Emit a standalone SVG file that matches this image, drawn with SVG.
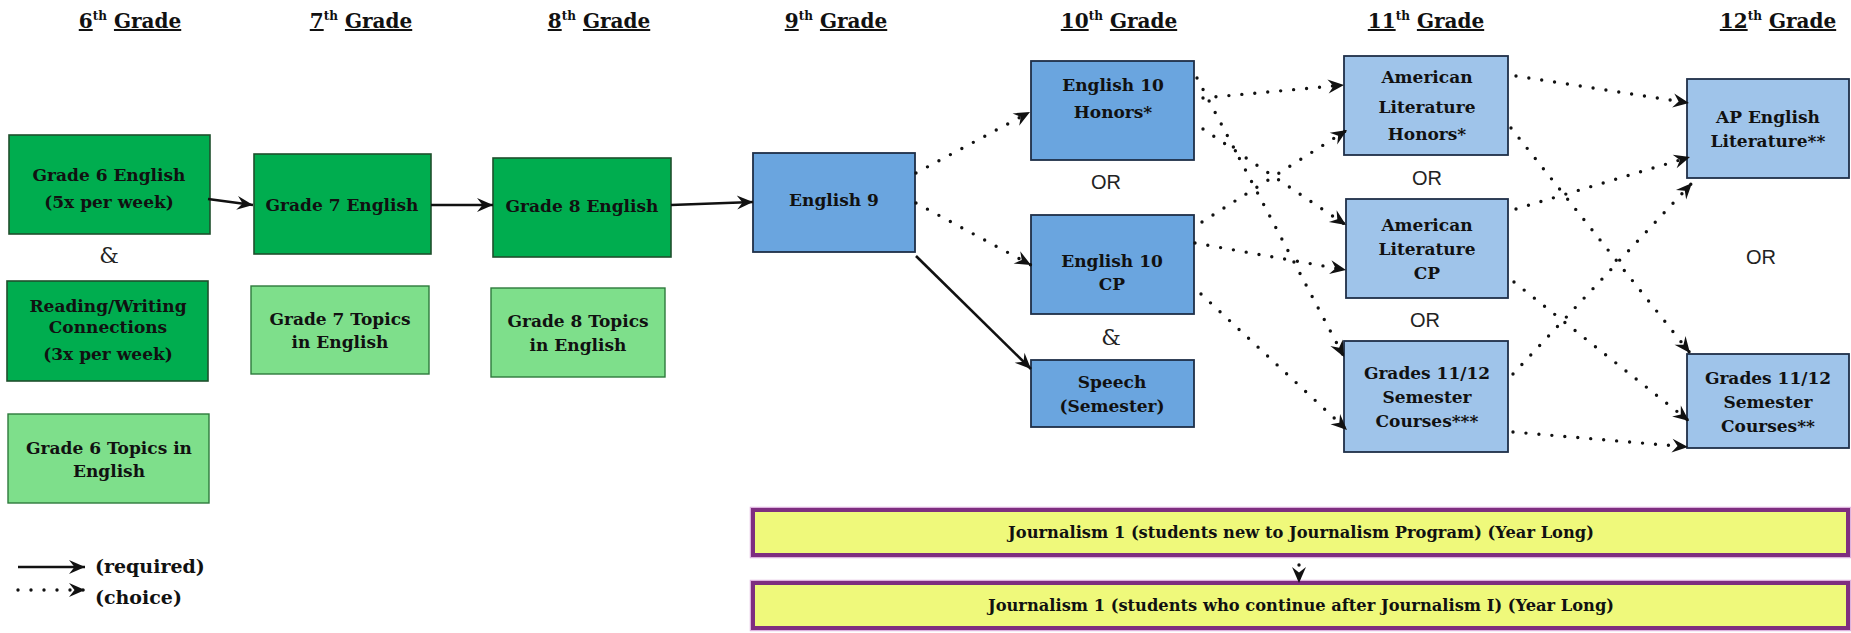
<svg xmlns="http://www.w3.org/2000/svg" width="1851" height="633" viewBox="0 0 1851 633">
  <style>
    .hd { font-family: "DejaVu Serif", "Liberation Serif", serif; font-weight: bold; font-size: 20px; fill: #111; }
    .ul { text-decoration: underline; }
    .t { font-family: "DejaVu Serif", "Liberation Serif", serif; font-weight: bold; font-size: 17px; fill: #111; text-anchor: middle; }
    .tj { font-family: "DejaVu Serif", "Liberation Serif", serif; font-weight: bold; font-size: 16.3px; fill: #111; text-anchor: middle; }
    .lg { font-family: "DejaVu Serif", "Liberation Serif", serif; font-weight: bold; font-size: 19px; fill: #111; }
    .or { font-family: "Liberation Sans", Arial, sans-serif; font-size: 20px; fill: #222; text-anchor: middle; }
    .amp { font-family: "DejaVu Serif", "Liberation Serif", serif; font-size: 22px; fill: #222; text-anchor: middle; }
    .dg { fill: #00AD4F; stroke: #1E4F2C; stroke-width: 1.6; }
    .lgn { fill: #7EDF8B; stroke: #2E7A3C; stroke-width: 1.4; }
    .bl { fill: #6AA5DF; stroke: #1F2F48; stroke-width: 1.8; }
    .lb { fill: #9FC4EA; stroke: #1F2F48; stroke-width: 1.8; }
    .jr { fill: #EFF97B; stroke: #7E2E80; stroke-width: 4; }
    .jh { fill: none; stroke: #DDB2DE; stroke-width: 1.5; }
    .req { fill: none; stroke: #111; stroke-width: 2.6; marker-end: url(#ah); }
    .cho { fill: none; stroke: #111; stroke-width: 3.4; stroke-linecap: round; stroke-dasharray: 0 13; marker-end: url(#ah); }
  </style>
  <defs>
    <marker id="ah" viewBox="-17 -8 18 16" markerWidth="18" markerHeight="16" refX="0" refY="0" orient="auto" markerUnits="userSpaceOnUse">
      <path d="M0,0 L-16,-7 L-10.5,0 L-16,7 Z" fill="#111"/>
    </marker>
  </defs>

  <rect width="1851" height="633" fill="#ffffff"/>

  <!-- grade headings -->
  <g id="headings">
    <text class="hd" x="130" y="28" text-anchor="middle"><tspan class="ul">6</tspan><tspan font-size="12" dy="-8">th</tspan><tspan dy="8"> </tspan><tspan class="ul">Grade</tspan></text>
    <text class="hd" x="361" y="28" text-anchor="middle"><tspan class="ul">7</tspan><tspan font-size="12" dy="-8">th</tspan><tspan dy="8"> </tspan><tspan class="ul">Grade</tspan></text>
    <text class="hd" x="599" y="28" text-anchor="middle"><tspan class="ul">8</tspan><tspan font-size="12" dy="-8">th</tspan><tspan dy="8"> </tspan><tspan class="ul">Grade</tspan></text>
    <text class="hd" x="836" y="28" text-anchor="middle"><tspan class="ul">9</tspan><tspan font-size="12" dy="-8">th</tspan><tspan dy="8"> </tspan><tspan class="ul">Grade</tspan></text>
    <text class="hd" x="1119" y="28" text-anchor="middle"><tspan class="ul">10</tspan><tspan font-size="12" dy="-8">th</tspan><tspan dy="8"> </tspan><tspan class="ul">Grade</tspan></text>
    <text class="hd" x="1426" y="28" text-anchor="middle"><tspan class="ul">11</tspan><tspan font-size="12" dy="-8">th</tspan><tspan dy="8"> </tspan><tspan class="ul">Grade</tspan></text>
    <text class="hd" x="1778" y="28" text-anchor="middle"><tspan class="ul">12</tspan><tspan font-size="12" dy="-8">th</tspan><tspan dy="8"> </tspan><tspan class="ul">Grade</tspan></text>
  </g>

  <!-- 6th grade -->
  <g id="g6-english">
    <rect class="dg" x="9" y="135" width="201" height="99"/>
    <text class="t" x="109" y="181">Grade 6 English</text>
    <text class="t" x="109" y="208">(5x per week)</text>
  </g>
  <text class="amp" x="109" y="263">&amp;</text>
  <g id="g6-readwrite">
    <rect class="dg" x="7" y="281" width="201" height="100"/>
    <text class="t" x="108" y="312">Reading/Writing</text>
    <text class="t" x="108" y="333">Connections</text>
    <text class="t" x="108" y="360">(3x per week)</text>
  </g>
  <g id="g6-topics">
    <rect class="lgn" x="8" y="414" width="201" height="89"/>
    <text class="t" x="109" y="454">Grade 6 Topics in</text>
    <text class="t" x="109" y="477">English</text>
  </g>

  <!-- 7th grade -->
  <g id="g7-english">
    <rect class="dg" x="254" y="154" width="177" height="100"/>
    <text class="t" x="342" y="211">Grade 7 English</text>
  </g>
  <g id="g7-topics">
    <rect class="lgn" x="251" y="286" width="178" height="88"/>
    <text class="t" x="340" y="325">Grade 7 Topics</text>
    <text class="t" x="340" y="348">in English</text>
  </g>

  <!-- 8th grade -->
  <g id="g8-english">
    <rect class="dg" x="493" y="158" width="178" height="99"/>
    <text class="t" x="582" y="212">Grade 8 English</text>
  </g>
  <g id="g8-topics">
    <rect class="lgn" x="491" y="288" width="174" height="89"/>
    <text class="t" x="578" y="327">Grade 8 Topics</text>
    <text class="t" x="578" y="351">in English</text>
  </g>

  <!-- 9th grade -->
  <g id="english9">
    <rect class="bl" x="753" y="153" width="162" height="99"/>
    <text class="t" x="834" y="206">English 9</text>
  </g>

  <!-- 10th grade -->
  <g id="english10-honors">
    <rect class="bl" x="1031" y="61" width="163" height="99"/>
    <text class="t" x="1113" y="91">English 10</text>
    <text class="t" x="1113" y="118">Honors*</text>
  </g>
  <text class="or" x="1106" y="189">OR</text>
  <g id="english10-cp">
    <rect class="bl" x="1031" y="215" width="163" height="99"/>
    <text class="t" x="1112" y="267">English 10</text>
    <text class="t" x="1112" y="290">CP</text>
  </g>
  <text class="amp" x="1111" y="345">&amp;</text>
  <g id="speech">
    <rect class="bl" x="1031" y="360" width="163" height="67"/>
    <text class="t" x="1112" y="388">Speech</text>
    <text class="t" x="1112" y="412">(Semester)</text>
  </g>

  <!-- 11th grade -->
  <g id="amlit-honors">
    <rect class="lb" x="1344" y="56" width="164" height="99"/>
    <text class="t" x="1427" y="83">American</text>
    <text class="t" x="1427" y="113">Literature</text>
    <text class="t" x="1427" y="140">Honors*</text>
  </g>
  <text class="or" x="1427" y="185">OR</text>
  <g id="amlit-cp">
    <rect class="lb" x="1346" y="199" width="162" height="99"/>
    <text class="t" x="1427" y="231">American</text>
    <text class="t" x="1427" y="255">Literature</text>
    <text class="t" x="1427" y="279">CP</text>
  </g>
  <text class="or" x="1425" y="327">OR</text>
  <g id="semester-11">
    <rect class="lb" x="1344" y="341" width="164" height="111"/>
    <text class="t" x="1427" y="379">Grades 11/12</text>
    <text class="t" x="1427" y="403">Semester</text>
    <text class="t" x="1427" y="427">Courses***</text>
  </g>

  <!-- 12th grade -->
  <g id="ap-literature">
    <rect class="lb" x="1687" y="79" width="162" height="99"/>
    <text class="t" x="1768" y="123">AP English</text>
    <text class="t" x="1768" y="147">Literature**</text>
  </g>
  <text class="or" x="1761" y="264">OR</text>
  <g id="semester-12">
    <rect class="lb" x="1687" y="354" width="162" height="94"/>
    <text class="t" x="1768" y="384">Grades 11/12</text>
    <text class="t" x="1768" y="408">Semester</text>
    <text class="t" x="1768" y="432">Courses**</text>
  </g>

  <!-- journalism -->
  <g id="journalism-new">
    <rect class="jh" x="750.5" y="507.5" width="1100" height="50"/>
    <rect class="jr" x="753" y="510" width="1095" height="45"/>
    <text class="tj" x="1301" y="538">Journalism 1 (students new to Journalism Program) (Year Long)</text>
  </g>
  <g id="journalism-continue">
    <rect class="jh" x="750.5" y="580.5" width="1100" height="50"/>
    <rect class="jr" x="753" y="583" width="1095" height="45"/>
    <text class="tj" x="1301" y="611">Journalism 1 (students who continue after Journalism I) (Year Long)</text>
  </g>

  <!-- legend -->
  <g id="legend">
    <line class="req" x1="18" y1="567" x2="85" y2="567" stroke-width="3"/>
    <text class="lg" x="95" y="573">(required)</text>
    <line class="cho" x1="18" y1="590" x2="85" y2="590" stroke-dasharray="0 15.5"/>
    <text class="lg" x="95" y="604">(choice)</text>
  </g>

  <!-- connectors -->
  <g id="connectors">
    <line class="req" x1="208" y1="199" x2="253" y2="205"/>
    <line class="req" x1="431" y1="205" x2="493" y2="205"/>
    <line class="req" x1="671" y1="205" x2="753" y2="202"/>
    <line class="req" x1="916" y1="256" x2="1031" y2="369"/>

    <line class="cho" x1="916" y1="173" x2="1030" y2="112"/>
    <line class="cho" x1="916" y1="203" x2="1031" y2="265"/>

    <line class="cho" x1="1197" y1="78" x2="1344" y2="357"/>
    <line class="cho" x1="1203" y1="98" x2="1344" y2="85"/>
    <line class="cho" x1="1203" y1="129" x2="1346" y2="225"/>
    <line class="cho" x1="1202" y1="222" x2="1347" y2="130"/>
    <line class="cho" x1="1195" y1="243" x2="1346" y2="270"/>
    <line class="cho" x1="1201" y1="294" x2="1347" y2="430"/>

    <line class="cho" x1="1516" y1="76" x2="1689" y2="103"/>
    <line class="cho" x1="1511" y1="128" x2="1690" y2="353"/>
    <line class="cho" x1="1516" y1="209" x2="1690" y2="157"/>
    <line class="cho" x1="1514" y1="282" x2="1689" y2="421"/>
    <line class="cho" x1="1513" y1="374" x2="1692" y2="183"/>
    <line class="cho" x1="1513" y1="432" x2="1688" y2="447"/>

    <line class="cho" x1="1299" y1="565" x2="1299" y2="583"/>
  </g>
</svg>
